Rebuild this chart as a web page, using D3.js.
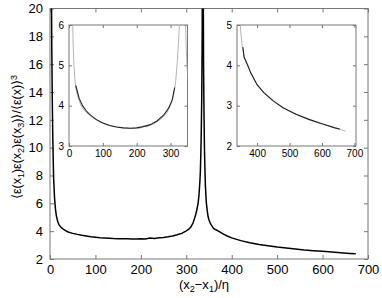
<!DOCTYPE html>
<html>
<head>
<meta charset="utf-8">
<script src="https://cdn.jsdelivr.net/npm/d3@7"></script>
<style>
  body { margin: 0; background: #fff; }
  text { font-family: "Liberation Sans", Arial, sans-serif; fill: #000; }
</style>
</head>
<body>
<div id="chart"></div>
<script>
////////////////////////////////////////////////////////////////////////
// data

// measured curve, left of the peak and right of it
let sepLeft = [1, 2, 3, 4, 5, 6, 7, 8, 10, 12, 14, 17, 20, 25, 30, 35, 40, 50, 60, 70, 80, 90,
  100, 110, 120, 130, 140, 150, 160, 170, 180, 190, 200, 210, 220, 230, 240, 250, 260, 270,
  280, 290, 300, 305, 310, 315, 320, 323, 326, 328, 330, 331, 332, 333, 334, 335, 336];
let valLeft = [40, 30, 22, 17, 13.5, 11, 9.2, 7.8, 6.4, 5.6, 5.1, 4.7, 4.45, 4.25, 4.12, 4.02, 3.94,
  3.84, 3.77, 3.7, 3.65, 3.6, 3.57, 3.53, 3.51, 3.49, 3.47, 3.46, 3.45, 3.45, 3.44, 3.43, 3.45, 3.44,
  3.5, 3.47, 3.52, 3.55, 3.6, 3.66, 3.74, 3.84, 4.02, 4.12, 4.3, 4.6, 5.1, 5.5, 6.0, 6.6, 7.6, 8.3,
  9.5, 11.2, 13.5, 18, 30];

let sepRight = [337, 338, 339, 340, 341, 342, 344, 346, 348, 350, 353, 356, 360, 365, 370, 380, 390,
  400, 420, 440, 460, 480, 500, 520, 540, 560, 580, 600, 620, 640, 660, 673];
let valRight = [25, 16, 12.5, 10, 8.5, 7.3, 6.1, 5.5, 5.05, 4.8, 4.55, 4.4, 4.2, 4.1, 4.02, 3.82, 3.65,
  3.52, 3.32, 3.17, 3.05, 2.95, 2.86, 2.79, 2.72, 2.65, 2.6, 2.55, 2.5, 2.45, 2.4, 2.37];

// smooth fits shown in black in the insets
let fitLeftX = [20, 30, 40, 50, 60, 80, 100, 120, 140, 160, 180, 200, 220, 240, 260, 280, 295, 305, 312];
let fitLeftY = [4.5, 4.18, 4.0, 3.88, 3.79, 3.66, 3.57, 3.51, 3.47, 3.45, 3.44, 3.45, 3.48, 3.53,
  3.62, 3.77, 3.95, 4.15, 4.45];
let fitRightX = [356, 360, 370, 380, 400, 420, 450, 480, 520, 560, 600, 640, 655];
let fitRightY = [4.45, 4.2, 4.02, 3.82, 3.52, 3.33, 3.12, 2.95, 2.79, 2.66, 2.55, 2.45, 2.42];

let mainXTicks = [0, 100, 200, 300, 400, 500, 600, 700];
let mainYTicks = [2, 4, 6, 8, 10, 12, 14, 16, 18, 20];
let in1XTicks = [0, 100, 200, 300];
let in1YTicks = [3, 4, 5, 6];
let in2XTicks = [400, 500, 600, 700];
let in2YTicks = [2, 3, 4, 5];

function zip(xs, ys) { return xs.map(function(x, i) { return [x, ys[i]]; }); }

let curve = zip(sepLeft, valLeft).concat(zip(sepRight, valRight));
let fitLeft = zip(fitLeftX, fitLeftY);
let fitRight = zip(fitRightX, fitRightY);

////////////////////////////////////////////////////////////////////////
// svg

let W = 382, H = 298;
let svg = d3.select("#chart").append("svg")
  .attr("width", W).attr("height", H);

let frameColor = "#777";

// draw a boxed panel with inward ticks on all four sides
function panel(opt) {
  let x = d3.scaleLinear().domain(opt.xd).range(opt.xr);
  let y = d3.scaleLinear().domain(opt.yd).range(opt.yr);
  let g = svg.append("g");
  let id = "clip" + opt.name;

  g.append("clipPath").attr("id", id).append("rect")
    .attr("x", opt.xr[0]).attr("y", opt.yr[1])
    .attr("width", opt.xr[1] - opt.xr[0]).attr("height", opt.yr[0] - opt.yr[1]);

  g.append("rect")
    .attr("x", opt.xr[0]).attr("y", opt.yr[1])
    .attr("width", opt.xr[1] - opt.xr[0]).attr("height", opt.yr[0] - opt.yr[1])
    .attr("fill", "#fff").attr("stroke", frameColor).attr("stroke-width", 1);

  let tl = opt.tick;
  let axes = [
    d3.axisBottom(x).tickValues(opt.xt).tickSize(-tl).tickPadding(opt.pad + tl).tickFormat(d3.format("d")),
    d3.axisTop(x).tickValues(opt.xt).tickSize(-tl).tickFormat(""),
    d3.axisLeft(y).tickValues(opt.yt).tickSize(-tl).tickPadding(opt.ypad + tl).tickFormat(d3.format("d")),
    d3.axisRight(y).tickValues(opt.yt).tickSize(-tl).tickFormat("")
  ];
  let pos = ["translate(0," + opt.yr[0] + ")", "translate(0," + opt.yr[1] + ")",
             "translate(" + opt.xr[0] + ",0)", "translate(" + opt.xr[1] + ",0)"];
  axes.forEach(function(a, i) {
    let ag = g.append("g").attr("transform", pos[i]).call(a);
    ag.select(".domain").remove();
    ag.selectAll("line").attr("stroke", frameColor);
    ag.selectAll("text").style("font-size", opt.font + "px")
      .style("font-family", "'Liberation Sans', Arial, sans-serif").attr("fill", "#000");
  });

  let plot = g.append("g").attr("clip-path", "url(#" + id + ")");
  return { x: x, y: y, g: g, plot: plot };
}

////////////////////////////////////////////////////////////////////////
// main panel

let main = panel({
  name: "main", xd: [0, 700], xr: [50, 368], yd: [2, 20], yr: [259, 8.5],
  xt: mainXTicks, yt: mainYTicks, tick: 4, pad: 2, ypad: 3, font: 13
});

let mainLine = d3.line().x(function(d) { return main.x(d[0]); }).y(function(d) { return main.y(d[1]); });
main.plot.append("path").datum(curve)
  .attr("d", mainLine).attr("fill", "none").attr("stroke", "#000").attr("stroke-width", 1.5);

// y label
let yl = svg.append("text")
  .attr("transform", "translate(21,137) rotate(-90)")
  .attr("text-anchor", "middle")
  .style("font-size", "12.5px");
yl.append("tspan").text("\u27E8\u03B5(x");
yl.append("tspan").attr("baseline-shift", "-30%").style("font-size", "9px").text("1");
yl.append("tspan").text(")\u03B5(x");
yl.append("tspan").attr("baseline-shift", "-30%").style("font-size", "9px").text("2");
yl.append("tspan").text(")\u03B5(x");
yl.append("tspan").attr("baseline-shift", "-30%").style("font-size", "9px").text("3");
yl.append("tspan").text(")\u27E9/\u27E8\u03B5(x)\u27E9");
yl.append("tspan").attr("baseline-shift", "45%").style("font-size", "9px").text("3");

// x label
let xl = svg.append("text")
  .attr("x", 204).attr("y", 289)
  .attr("text-anchor", "middle")
  .style("font-size", "13px");
xl.append("tspan").text("(x");
xl.append("tspan").attr("baseline-shift", "-30%").style("font-size", "9px").text("2");
xl.append("tspan").text("\u2212x");
xl.append("tspan").attr("baseline-shift", "-30%").style("font-size", "9px").text("1");
xl.append("tspan").text(")/\u03B7");

////////////////////////////////////////////////////////////////////////
// insets

function inset(p, fit) {
  let ln = d3.line().x(function(d) { return p.x(d[0]); }).y(function(d) { return p.y(d[1]); });
  p.plot.append("path").datum(curve)
    .attr("d", ln).attr("fill", "none").attr("stroke", "#b4b4b4").attr("stroke-width", 1);
  p.plot.append("path").datum(fit)
    .attr("d", ln).attr("fill", "none").attr("stroke", "#222").attr("stroke-width", 1.1);
}

let in1 = panel({
  name: "in1", xd: [0, 350], xr: [69, 187.5], yd: [3, 6], yr: [146, 25],
  xt: in1XTicks, yt: in1YTicks, tick: 3, pad: 1, ypad: 2, font: 10
});
inset(in1, fitLeft);

let in2 = panel({
  name: "in2", xd: [338, 705], xr: [237, 356], yd: [2, 5], yr: [146, 25],
  xt: in2XTicks, yt: in2YTicks, tick: 3, pad: 1, ypad: 2, font: 10
});
inset(in2, fitRight);
</script>
</body>
</html>
